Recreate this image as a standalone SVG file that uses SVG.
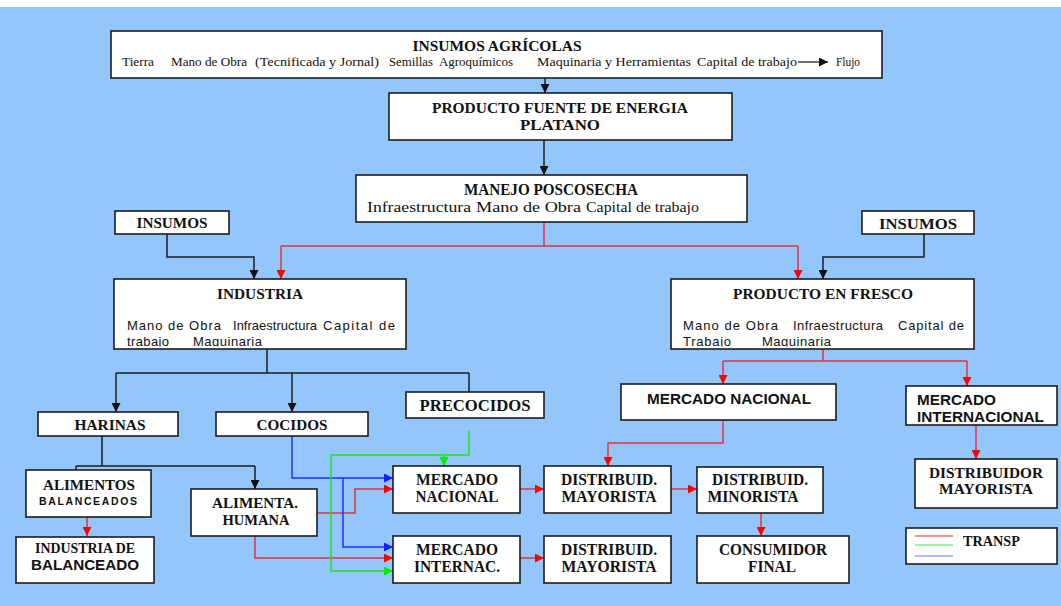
<svg xmlns="http://www.w3.org/2000/svg" width="1061" height="606" viewBox="0 0 1061 606">
<style>
.bx{fill:#fff;stroke:#1c1c1c;stroke-width:1.6}
.t{font-family:"Liberation Serif","Times New Roman",serif;font-weight:bold;fill:#111;text-anchor:middle}
.s{font-family:"Liberation Sans",Arial,sans-serif;font-weight:bold;fill:#111}
.r{font-family:"Liberation Serif","Times New Roman",serif;fill:#111}
.b{font-family:"Liberation Sans",Arial,sans-serif;fill:#111}
.k{fill:none;stroke:#1c1c1c;stroke-width:1.5}
.rd{fill:none;stroke:#e8303c;stroke-width:1.5}
.bl{fill:none;stroke:#2030ff;stroke-width:1.5}
.gr{fill:none;stroke:#22dd22;stroke-width:1.5}
</style>
<defs>
<marker id="ak" viewBox="0 0 10 10" refX="10" refY="5" markerWidth="9" markerHeight="9" markerUnits="userSpaceOnUse" orient="auto"><path d="M0,0 L10,5 L0,10 z" fill="#111"/></marker>
<marker id="ar" viewBox="0 0 10 10" refX="10" refY="5" markerWidth="9" markerHeight="9" markerUnits="userSpaceOnUse" orient="auto"><path d="M0,0 L10,5 L0,10 z" fill="#ff0000"/></marker>
<marker id="ab" viewBox="0 0 10 10" refX="10" refY="5" markerWidth="9" markerHeight="9" markerUnits="userSpaceOnUse" orient="auto"><path d="M0,0 L10,5 L0,10 z" fill="#1020ff"/></marker>
<marker id="ag" viewBox="0 0 10 10" refX="10" refY="5" markerWidth="9" markerHeight="9" markerUnits="userSpaceOnUse" orient="auto"><path d="M0,0 L10,5 L0,10 z" fill="#00ee00"/></marker>
<clipPath id="cInd"><rect x="114" y="279" width="292" height="67.5"/></clipPath>
<clipPath id="cFre"><rect x="671" y="279" width="303" height="67.5"/></clipPath>
</defs>
<rect x="0" y="0" width="1061" height="606" fill="#fff"/>
<rect x="0" y="7" width="1061" height="599" fill="#93c6fb"/>

<g id="connectors">
<path class="k" d="M545,78 V93" marker-end="url(#ak)"/>
<path class="k" d="M544,140 V175" marker-end="url(#ak)"/>
<path class="k" d="M167,234 V257 H254 V279" marker-end="url(#ak)"/>
<path class="k" d="M924,234 V257 H823 V279" marker-end="url(#ak)"/>
<path class="k" d="M267,349 V373 M116,373 H469"/>
<path class="k" d="M116,373 V412" marker-end="url(#ak)"/>
<path class="k" d="M292,373 V412" marker-end="url(#ak)"/>
<path class="k" d="M469,373 V403" marker-end="url(#ak)"/>
<path class="k" d="M102,436 V466 M76,466 H255"/>
<path class="k" d="M76,466 V486" marker-end="url(#ak)"/>
<path class="k" d="M255,466 V489" marker-end="url(#ak)"/>

<path class="rd" d="M544,222 V246 M281,246 H798"/>
<path class="rd" d="M281,246 V279" marker-end="url(#ar)"/>
<path class="rd" d="M798,246 V279" marker-end="url(#ar)"/>
<path class="rd" d="M823,349 V361 M723,361 H967"/>
<path class="rd" d="M723,361 V384" marker-end="url(#ar)"/>
<path class="rd" d="M967,361 V386" marker-end="url(#ar)"/>
<path class="rd" d="M723,420 V443 H608 V466" marker-end="url(#ar)"/>
<path class="rd" d="M976,425 V459" marker-end="url(#ar)"/>
<path class="rd" d="M87,517 V536" marker-end="url(#ar)"/>
<path class="rd" d="M317,513 H355 V489 H393" marker-end="url(#ar)"/>
<path class="rd" d="M255,536 V558 H393" marker-end="url(#ar)"/>
<path class="rd" d="M520,489 H544" marker-end="url(#ar)"/>
<path class="rd" d="M671,489 H697" marker-end="url(#ar)"/>
<path class="rd" d="M520,558 H544" marker-end="url(#ar)"/>
<path class="rd" d="M761,513 V536" marker-end="url(#ar)"/>

<path class="bl" d="M292,436 V478 H393" marker-end="url(#ab)"/>
<path class="bl" d="M343,478 V547 H393" marker-end="url(#ab)"/>

<path class="gr" d="M469,431 V455 H331 V571 H393" marker-end="url(#ag)"/>
<path class="gr" d="M444,455 V466" marker-end="url(#ag)"/>
</g>

<g id="insumos-agricolas">
<rect class="bx" x="111" y="31" width="771" height="47"/>
<text class="t" x="497" y="51" font-size="15" textLength="169" lengthAdjust="spacingAndGlyphs">INSUMOS AGRÍCOLAS</text>
<text class="r" y="66" font-size="13"><tspan x="122" textLength="32" lengthAdjust="spacingAndGlyphs">Tierra</tspan><tspan x="171" textLength="76" lengthAdjust="spacingAndGlyphs">Mano de Obra</tspan><tspan x="255" textLength="124" lengthAdjust="spacingAndGlyphs">(Tecnificada y Jornal)</tspan><tspan x="389" textLength="44" lengthAdjust="spacingAndGlyphs">Semillas</tspan><tspan x="439" textLength="74" lengthAdjust="spacingAndGlyphs">Agroquímicos</tspan><tspan x="537" textLength="154" lengthAdjust="spacingAndGlyphs">Maquinaria y Herramientas</tspan><tspan x="697" textLength="100" lengthAdjust="spacingAndGlyphs">Capital de trabajo</tspan><tspan x="836" textLength="24" lengthAdjust="spacingAndGlyphs">Flujo</tspan></text>
<path d="M798,62 H828" stroke="#111" stroke-width="1.2" marker-end="url(#ak)"/>
</g>

<g id="producto-fuente">
<rect class="bx" x="389" y="93" width="343" height="47"/>
<text class="t" x="560" y="113" font-size="15" textLength="256" lengthAdjust="spacingAndGlyphs">PRODUCTO FUENTE DE ENERGIA</text>
<text class="t" x="560" y="130" font-size="15" textLength="80" lengthAdjust="spacingAndGlyphs">PLATANO</text>
</g>

<g id="manejo-poscosecha">
<rect class="bx" x="356" y="175" width="391" height="47"/>
<text class="t" x="551" y="195" font-size="16" textLength="174" lengthAdjust="spacingAndGlyphs">MANEJO POSCOSECHA</text>
<text class="r" y="212" font-size="15"><tspan x="367" textLength="104" lengthAdjust="spacingAndGlyphs">Infraestructura</tspan><tspan x="476" textLength="105" lengthAdjust="spacingAndGlyphs">Mano de Obra</tspan><tspan x="586" textLength="113" lengthAdjust="spacingAndGlyphs">Capital de trabajo</tspan></text>
</g>

<g id="insumos-izq">
<rect class="bx" x="115" y="211" width="114" height="23"/>
<text class="t" x="172" y="228" font-size="15" textLength="71" lengthAdjust="spacingAndGlyphs">INSUMOS</text>
</g>

<g id="insumos-der">
<rect class="bx" x="862" y="211" width="112" height="23"/>
<text class="t" x="918" y="229" font-size="15" textLength="78" lengthAdjust="spacingAndGlyphs">INSUMOS</text>
</g>

<g id="industria">
<rect class="bx" x="114" y="279" width="292" height="70"/>
<text class="t" x="260" y="299" font-size="15" textLength="86" lengthAdjust="spacingAndGlyphs">INDUSTRIA</text>
<text class="b" y="330" font-size="13"><tspan x="127" textLength="94">Mano de Obra</tspan><tspan x="233" textLength="84">Infraestructura</tspan><tspan x="323" textLength="72">Capital de</tspan></text>
<text class="b" y="346" font-size="13" clip-path="url(#cInd)"><tspan x="127" textLength="42">trabajo</tspan><tspan x="193" textLength="69">Maquinaria</tspan></text>
</g>

<g id="producto-fresco">
<rect class="bx" x="671" y="279" width="303" height="70"/>
<text class="t" x="823" y="299" font-size="15" textLength="180" lengthAdjust="spacingAndGlyphs">PRODUCTO EN FRESCO</text>
<text class="b" y="330" font-size="13"><tspan x="683" textLength="95">Mano de Obra</tspan><tspan x="793" textLength="90">Infraestructura</tspan><tspan x="898" textLength="66">Capital de</tspan></text>
<text class="b" y="346" font-size="13" clip-path="url(#cFre)"><tspan x="683" textLength="48">Trabajo</tspan><tspan x="762" textLength="69">Maquinaria</tspan></text>
</g>

<g id="harinas">
<rect class="bx" x="38" y="412" width="140" height="24"/>
<text class="t" x="110" y="430" font-size="15" textLength="71" lengthAdjust="spacingAndGlyphs">HARINAS</text>
</g>

<g id="cocidos">
<rect class="bx" x="216" y="412" width="152" height="24"/>
<text class="t" x="292" y="430" font-size="15" textLength="71" lengthAdjust="spacingAndGlyphs">COCIDOS</text>
</g>

<g id="precocidos">
<rect class="bx" x="406" y="392" width="138" height="26"/>
<text class="t" x="475" y="411" font-size="16" textLength="111" lengthAdjust="spacingAndGlyphs">PRECOCIDOS</text>
</g>

<g id="alimentos-balanceados">
<rect class="bx" x="26" y="470" width="125" height="47"/>
<text class="t" x="89" y="490" font-size="15" textLength="92" lengthAdjust="spacingAndGlyphs">ALIMENTOS</text>
<text class="s" x="88" y="505" font-size="10.5" style="text-anchor:middle" textLength="98">BALANCEADOS</text>
</g>

<g id="industria-balanceado">
<rect class="bx" x="16" y="537" width="138" height="46"/>
<text class="t" x="85" y="553" font-size="14" textLength="100" lengthAdjust="spacingAndGlyphs">INDUSTRIA DE</text>
<text class="s" x="85" y="570" font-size="15" style="text-anchor:middle" textLength="108" lengthAdjust="spacingAndGlyphs">BALANCEADO</text>
</g>

<g id="alimenta-humana">
<rect class="bx" x="191" y="489" width="126" height="47"/>
<text class="t" x="255" y="508" font-size="15" textLength="86" lengthAdjust="spacingAndGlyphs">ALIMENTA.</text>
<text class="t" x="256" y="525" font-size="15" textLength="67" lengthAdjust="spacingAndGlyphs">HUMANA</text>
</g>

<g id="mercado-nacional">
<rect class="bx" x="393" y="466" width="127" height="47"/>
<text class="t" x="457" y="485" font-size="16" textLength="82" lengthAdjust="spacingAndGlyphs">MERCADO</text>
<text class="t" x="457" y="502" font-size="16" textLength="83" lengthAdjust="spacingAndGlyphs">NACIONAL</text>
</g>

<g id="mercado-internac">
<rect class="bx" x="393" y="536" width="127" height="47"/>
<text class="t" x="457" y="555" font-size="16" textLength="82" lengthAdjust="spacingAndGlyphs">MERCADO</text>
<text class="t" x="457" y="572" font-size="16" textLength="86" lengthAdjust="spacingAndGlyphs">INTERNAC.</text>
</g>

<g id="distribuid-mayorista-1">
<rect class="bx" x="544" y="466" width="127" height="47"/>
<text class="t" x="609" y="485" font-size="16" textLength="96" lengthAdjust="spacingAndGlyphs">DISTRIBUID.</text>
<text class="t" x="609" y="502" font-size="16" textLength="95" lengthAdjust="spacingAndGlyphs">MAYORISTA</text>
</g>

<g id="distribuid-mayorista-2">
<rect class="bx" x="544" y="536" width="127" height="47"/>
<text class="t" x="609" y="555" font-size="16" textLength="96" lengthAdjust="spacingAndGlyphs">DISTRIBUID.</text>
<text class="t" x="609" y="572" font-size="16" textLength="95" lengthAdjust="spacingAndGlyphs">MAYORISTA</text>
</g>

<g id="distribuid-minorista">
<rect class="bx" x="697" y="467" width="126" height="46"/>
<text class="t" x="760" y="485" font-size="16" textLength="96" lengthAdjust="spacingAndGlyphs">DISTRIBUID.</text>
<text class="t" x="753" y="502" font-size="16" textLength="91" lengthAdjust="spacingAndGlyphs">MINORISTA</text>
</g>

<g id="consumidor-final">
<rect class="bx" x="697" y="536" width="152" height="47"/>
<text class="t" x="773" y="555" font-size="16" textLength="108" lengthAdjust="spacingAndGlyphs">CONSUMIDOR</text>
<text class="t" x="772" y="572" font-size="16" textLength="48" lengthAdjust="spacingAndGlyphs">FINAL</text>
</g>

<g id="mercado-nacional-fresco">
<rect class="bx" x="621" y="384" width="215" height="36"/>
<text class="s" x="729" y="404" font-size="15" style="text-anchor:middle" textLength="164" lengthAdjust="spacingAndGlyphs">MERCADO NACIONAL</text>
</g>

<g id="mercado-internacional">
<rect class="bx" x="906" y="386" width="151" height="39"/>
<text class="s" x="917" y="405" font-size="15" textLength="79" lengthAdjust="spacingAndGlyphs">MERCADO</text>
<text class="s" x="917" y="422" font-size="15" textLength="127" lengthAdjust="spacingAndGlyphs">INTERNACIONAL</text>
</g>

<g id="distribuidor-mayorista">
<rect class="bx" x="915" y="459" width="142" height="49"/>
<text class="t" x="986" y="478" font-size="15" textLength="114" lengthAdjust="spacingAndGlyphs">DISTRIBUIDOR</text>
<text class="t" x="986" y="494" font-size="15" textLength="94" lengthAdjust="spacingAndGlyphs">MAYORISTA</text>
</g>

<g id="leyenda">
<rect class="bx" x="906" y="528" width="151" height="36"/>
<line x1="915" y1="536" x2="953" y2="536" stroke="#ff2020" stroke-width="1.2"/>
<line x1="915" y1="545" x2="953" y2="545" stroke="#40ee40" stroke-width="1.2"/>
<line x1="915" y1="556" x2="953" y2="556" stroke="#7070ff" stroke-width="1.2"/>
<text class="t" x="963" y="546" font-size="14" style="text-anchor:start" textLength="57" lengthAdjust="spacingAndGlyphs">TRANSP</text>
</g>
</svg>
